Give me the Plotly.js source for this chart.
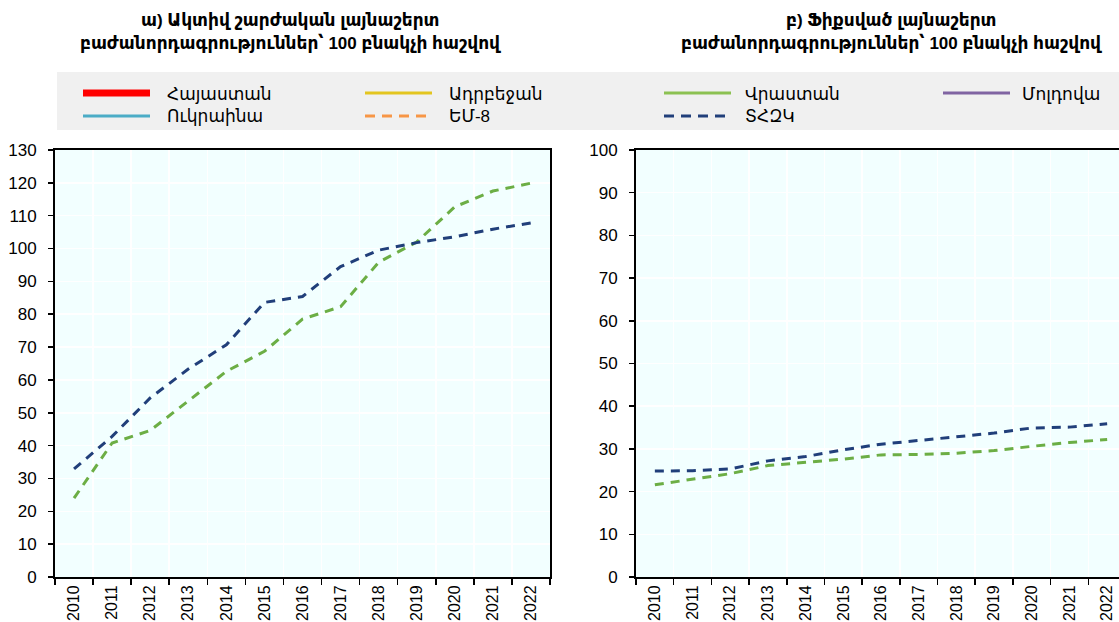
<!DOCTYPE html>
<html><head><meta charset="utf-8">
<script src="https://cdn.plot.ly/plotly-3.0.1.min.js"></script>
<style>html,body{margin:0;padding:0;overflow:hidden;background:#fff}</style>
</head><body><div id="chart"></div>
<script>
// ---- data ----
const years = ['2010','2011','2012','2013','2014','2015','2016','2017','2018','2019','2020','2021','2022'];
// a) active mobile broadband subscriptions per 100 inhabitants
const mobileOECD  = [32.9, 42.8, 54.5, 63.3, 70.7, 83.6, 85.4, 94.5, 99.5, 101.8, 103.6, 105.9, 107.8];
const mobileGreen = [24.0, 40.8, 44.6, 53.5, 62.6, 68.7, 78.5, 82.3, 95.8, 102.0, 112.7, 117.5, 119.9];
// b) fixed broadband subscriptions per 100 inhabitants
const fixedOECD   = [24.8, 24.9, 25.3, 27.2, 28.2, 29.8, 31.1, 32.0, 32.9, 33.7, 34.9, 35.1, 35.9];
const fixedGreen  = [21.6, 22.9, 24.2, 26.1, 26.8, 27.6, 28.6, 28.7, 29.0, 29.6, 30.6, 31.5, 32.2];
// legend entries
const legendNames  = ['Հայաստան','Ադրբեջան','Վրաստան','Մոլդովա','Ուկրաինա','ԵՄ-8','ՏՀԶԿ'];
const legendColors = ['#FF0000','#E3C51F','#8CC152','#8064A2','#4BACC6','#F79646','#213F7A'];
const legendDash   = ['solid','solid','solid','solid','solid','dash','dash'];
const leftTitle  = ['ա) Ակտիվ շարժական լայնաշերտ','բաժանորդագրություններ՝ 100 բնակչի հաշվով'];
const rightTitle = ['բ) Ֆիքսված լայնաշերտ','բաժանորդագրություններ՝ 100 բնակչի հաշվով'];

// ---- geometry (pixels) ----
const W = 1136, H = 622, ML = 55, MR = 10, MT = 150, MB = 45;
const PW = W - ML - MR, PH = H - MT - MB;
const px = x => (x - ML) / PW;
const py = y => (H - MB - y) / PH;

const NAVY = '#213F7A', GREEN = '#6CAE45';
const FONT = 'Liberation Sans, Arial, DejaVu Sans, sans-serif';
const dashPat = '9px,7px';

const traces = [
  {x: years, y: mobileGreen, xaxis:'x', yaxis:'y', name:'Վրաստան', mode:'lines', line:{color:GREEN, width:3, dash:dashPat}},
  {x: years, y: mobileOECD,  xaxis:'x', yaxis:'y', name:'ՏՀԶԿ', mode:'lines', line:{color:NAVY, width:3, dash:dashPat}},
  {x: years, y: fixedGreen,  xaxis:'x2', yaxis:'y2', name:'Վրաստան', mode:'lines', line:{color:GREEN, width:3, dash:dashPat}},
  {x: years, y: fixedOECD,   xaxis:'x2', yaxis:'y2', name:'ՏՀԶԿ', mode:'lines', line:{color:NAVY, width:3, dash:dashPat}}
];

const xCommon = {
  type:'category', tickson:'boundaries', ticks:'outside', ticklen:6, tickwidth:1.5, tickcolor:'#000',
  showline:true, linecolor:'#000', linewidth:2, mirror:true,
  showgrid:true, gridcolor:'#FFFFFF', gridwidth:1.5,
  tickangle:-90, tickfont:{family:FONT, size:16, color:'#000'}, range:[-0.5, 12.5]
};
const yCommon = {
  ticks:'outside', ticklen:5, tickwidth:1.5, tickcolor:'#000',
  showline:true, linecolor:'#000', linewidth:2, mirror:true,
  showgrid:true, gridcolor:'#FFFFFF', gridwidth:1.5, zeroline:false,
  dtick:10, tick0:0, tickfont:{family:FONT, size:17, color:'#000'}, ticklabelstandoff:8
};

const shapes = [];
const annotations = [];
// legend background
shapes.push({type:'rect', xref:'paper', yref:'paper', x0:px(57), x1:px(W+10), y0:py(130), y1:py(72),
  fillcolor:'#F0F0F0', line:{width:0}, layer:'below'});
const colLine = [83, 365, 664, 943];
const colText = [165, 447, 743, 1020];
const rowY = [93, 116];
legendNames.forEach((n, i) => {
  const r = Math.floor(i / 4), c = i % 4;
  const isRed = i === 0;
  shapes.push({type:'line', xref:'paper', yref:'paper', x0:px(colLine[c]), x1:px(colLine[c] + 67),
    y0:py(rowY[r]), y1:py(rowY[r]),
    line:{color:legendColors[i], width:isRed ? 7 : 3, dash:legendDash[i] === 'dash' ? '10px,7px' : 'solid'}});
  annotations.push({xref:'paper', yref:'paper', x:px(colText[c]), y:py(rowY[r] + 1), text:n, showarrow:false,
    xanchor:'left', yanchor:'middle', font:{family:FONT, size:17, color:'#000'}});
});
// titles
[[leftTitle, 290], [rightTitle, 891]].forEach(([t, cx]) => {
  t.forEach((line, k) => {
    annotations.push({xref:'paper', yref:'paper', x:px(cx), y:py(20 + k * 23), text:'<b>' + line + '</b>',
      showarrow:false, xanchor:'center', yanchor:'middle', font:{family:FONT, size:17, color:'#000'}});
  });
});

const layout = {
  width:W, height:H, margin:{l:ML, r:MR, t:MT, b:MB},
  paper_bgcolor:'#FFFFFF', plot_bgcolor:'#F2FFFF', showlegend:false,
  xaxis:Object.assign({}, xCommon, {domain:[0, px(550)], anchor:'y'}),
  yaxis:Object.assign({}, yCommon, {range:[0, 130], anchor:'x'}),
  xaxis2:Object.assign({}, xCommon, {domain:[px(636), 1], anchor:'y2'}),
  yaxis2:Object.assign({}, yCommon, {range:[0, 100], anchor:'x2'}),
  shapes:shapes, annotations:annotations
};

Plotly.newPlot('chart', traces, layout, {staticPlot:true, displayModeBar:false});
</script></body></html>
